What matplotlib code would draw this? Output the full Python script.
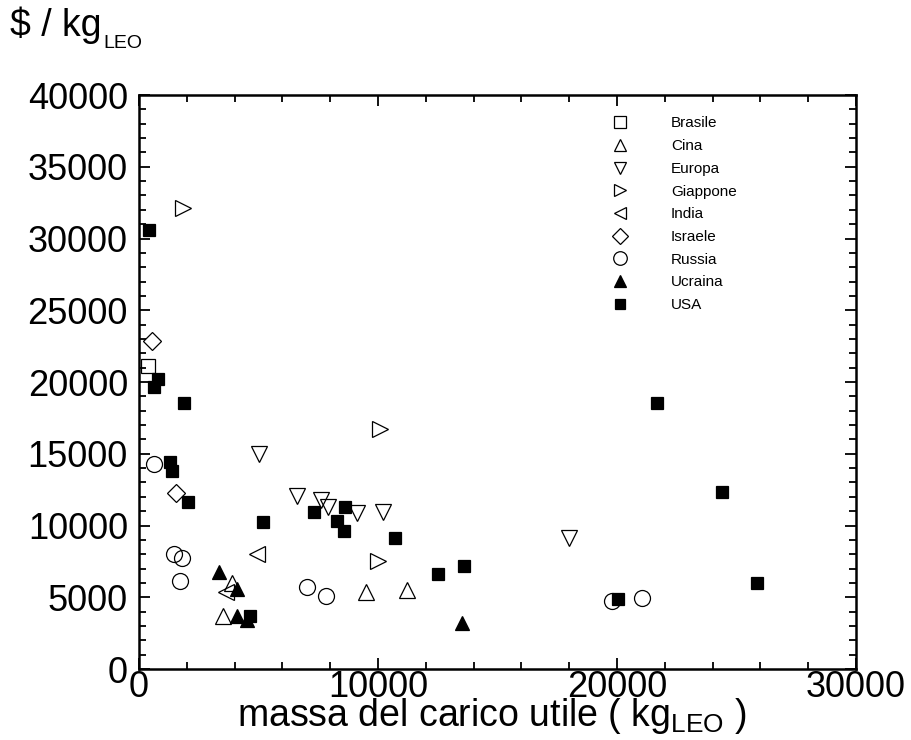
import matplotlib
matplotlib.use("Agg")
import matplotlib.pyplot as plt
from matplotlib.ticker import MultipleLocator

plt.rcParams["font.family"] = ["Liberation Sans", "DejaVu Sans"]
plt.rcParams["mathtext.fontset"] = "custom"
plt.rcParams["mathtext.rm"] = "Liberation Sans"
plt.rcParams["mathtext.default"] = "regular"

# payload mass (kg LEO) and cost per kg, one pair of lists per country
brasile_x = [380]
brasile_y = [21100]

cina_x = [3500, 3900, 9500, 11200]
cina_y = [3700, 6000, 5400, 5500]

europa_x = [5020, 6600, 7610, 7900, 9120, 10200, 18000]
europa_y = [15000, 12050, 11780, 11300, 10870, 10940, 9130]

giappone_x = [1840, 10080, 10000]
giappone_y = [32100, 16700, 7530]

india_x = [4940, 3640]
india_y = [8010, 5370]

israele_x = [540, 1550]
israele_y = [22860, 12270]

russia_x = [630, 1460, 1800, 1720, 7030, 7820, 19790, 21040]
russia_y = [14290, 8010, 7740, 6130, 5710, 5090, 4740, 4950]

ucraina_x = [3350, 4100, 4100, 4520, 13510]
ucraina_y = [6760, 5570, 3690, 3410, 3200]

usa_x = [420, 800, 630, 1880, 1300, 1380, 2050, 5190, 4640, 7320, 8620,
         8280, 8580, 10710, 12510, 13600, 20040, 21670, 24390, 25860]
usa_y = [30600, 20210, 19650, 18540, 14430, 13800, 11640, 10240, 3690, 10940,
         11290, 10310, 9620, 9130, 6620, 7180, 4880, 18540, 12330, 5990]

series = [
    ("Brasile", brasile_x, brasile_y, "s", "none", 10),
    ("Cina", cina_x, cina_y, "^", "none", 11),
    ("Europa", europa_x, europa_y, "v", "none", 11),
    ("Giappone", giappone_x, giappone_y, ">", "none", 11),
    ("India", india_x, india_y, "<", "none", 11),
    ("Israele", israele_x, israele_y, "D", "none", 9),
    ("Russia", russia_x, russia_y, "o", "none", 11.5),
    ("Ucraina", ucraina_x, ucraina_y, "^", "black", 10),
    ("USA", usa_x, usa_y, "s", "black", 8.5),
]

fig = plt.figure(figsize=(9.11, 7.4), dpi=100)
ax = fig.add_axes([0.1526, 0.0959, 0.7871, 0.7757])

for name, xs, ys, mk, fc, ms in series:
    ax.plot(xs, ys, linestyle="none", marker=mk, markersize=ms,
            markerfacecolor=fc, markeredgecolor="black",
            markeredgewidth=0.9, label=name)

ax.set_xlim(0, 30000)
ax.set_ylim(0, 40000)
ax.xaxis.set_major_locator(MultipleLocator(10000))
ax.xaxis.set_minor_locator(MultipleLocator(2000))
ax.yaxis.set_major_locator(MultipleLocator(5000))
ax.yaxis.set_minor_locator(MultipleLocator(1000))
ax.tick_params(which="both", direction="in", top=True, right=True,
               width=1.3, labelsize=26)
ax.tick_params(which="major", length=8)
ax.tick_params(which="minor", length=5)
ax.tick_params(axis="y", pad=8)
ax.tick_params(axis="x", pad=1)
for sp in ax.spines.values():
    sp.set_linewidth(1.8)

ax.set_xlabel("massa del carico utile ( kg$_{LEO}$ )", fontsize=27)
ax.xaxis.label.set_va("baseline")
ax.xaxis.set_label_coords(0.493, -0.1)

# y-axis unit written above the axis, subscript as a separate smaller text
unit = fig.text(0.011, 0.951, "$ / kg", fontsize=27, va="baseline",
                ha="left")
fig.canvas.draw()
ax.annotate("LEO", xy=(1, 0), xycoords=unit, xytext=(1, -3),
            textcoords="offset points", fontsize=14, va="baseline",
            ha="left")

ax.legend(loc="upper left", bbox_to_anchor=(0.648, 0.976), frameon=False,
          fontsize=11, labelspacing=0.57, handlelength=1.2, markerscale=0.85,
          handletextpad=2.7, borderpad=0)

fig.savefig("out.png", dpi=100)
